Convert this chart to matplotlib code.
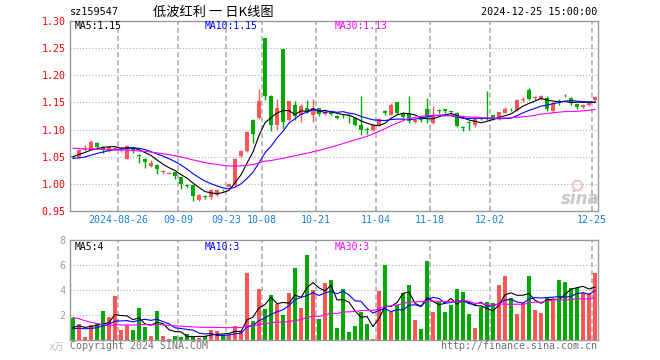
import numpy as np
import pandas as pd
import matplotlib
matplotlib.use('Agg')
import matplotlib.pyplot as plt

plt.rcParams['font.family'] = ['DejaVu Sans Mono', 'Noto Sans CJK SC']

# daily K-line data, 2024-08-14 .. 2024-12-25
opens = [1.051, 1.049, 1.062, 1.063, 1.076, 1.068, 1.060, 1.064, 1.062, 1.046,
         1.066, 1.054, 1.046, 1.032, 1.035, 1.022, 1.019, 1.021, 1.012, 0.997,
         0.997, 0.971, 0.977, 0.975, 0.980, 0.989, 0.995, 0.997, 1.052, 1.060,
         1.117, 1.122, 1.268, 1.162, 1.108, 1.248, 1.117, 1.146, 1.127, 1.139,
         1.127, 1.139, 1.129, 1.133, 1.125, 1.127, 1.126, 1.122, 1.109, 1.101,
         1.100, 1.108, 1.134, 1.127, 1.150, 1.131, 1.128, 1.114, 1.120, 1.138,
         1.112, 1.135, 1.137, 1.133, 1.131, 1.104, 1.114, 1.109, 1.120, 1.122,
         1.126, 1.120, 1.131, 1.138, 1.136, 1.155, 1.173, 1.158, 1.157, 1.159,
         1.134, 1.151, 1.164, 1.159, 1.148, 1.142, 1.146, 1.154]
highs = [1.052, 1.064, 1.072, 1.080, 1.077, 1.069, 1.069, 1.068, 1.067, 1.072,
         1.068, 1.055, 1.047, 1.044, 1.036, 1.026, 1.022, 1.022, 1.013, 1.000,
         0.998, 0.982, 0.980, 0.990, 0.990, 0.990, 1.002, 1.047, 1.063, 1.097,
         1.119, 1.174, 1.269, 1.163, 1.157, 1.249, 1.153, 1.152, 1.147, 1.154,
         1.156, 1.140, 1.136, 1.135, 1.127, 1.128, 1.127, 1.123, 1.162, 1.104,
         1.110, 1.121, 1.136, 1.149, 1.151, 1.133, 1.162, 1.120, 1.122, 1.159,
         1.144, 1.137, 1.138, 1.135, 1.133, 1.107, 1.116, 1.124, 1.121, 1.171,
         1.127, 1.133, 1.142, 1.140, 1.156, 1.160, 1.177, 1.161, 1.163, 1.161,
         1.150, 1.157, 1.166, 1.160, 1.149, 1.148, 1.152, 1.161]
lows = [1.048, 1.048, 1.061, 1.062, 1.066, 1.056, 1.059, 1.062, 1.058, 1.045,
        1.057, 1.038, 1.029, 1.031, 1.019, 1.018, 1.018, 1.009, 0.990, 0.992,
        0.969, 0.968, 0.972, 0.972, 0.978, 0.986, 0.994, 0.996, 1.050, 1.059,
        1.075, 1.120, 1.155, 1.098, 1.100, 1.103, 1.115, 1.118, 1.114, 1.131,
        1.114, 1.125, 1.126, 1.126, 1.119, 1.122, 1.112, 1.107, 1.090, 1.092,
        1.097, 1.106, 1.126, 1.126, 1.129, 1.121, 1.112, 1.112, 1.114, 1.112,
        1.110, 1.130, 1.131, 1.127, 1.104, 1.097, 1.100, 1.104, 1.117, 1.117,
        1.118, 1.118, 1.130, 1.134, 1.134, 1.151, 1.155, 1.154, 1.155, 1.135,
        1.131, 1.146, 1.160, 1.146, 1.138, 1.140, 1.143, 1.153]
closes = [1.050, 1.063, 1.064, 1.078, 1.068, 1.063, 1.068, 1.066, 1.064, 1.070,
          1.062, 1.052, 1.040, 1.038, 1.028, 1.023, 1.020, 1.014, 1.000, 0.996,
          0.977, 0.980, 0.976, 0.988, 0.988, 0.988, 1.000, 1.046, 1.061, 1.096,
          1.091, 1.152, 1.162, 1.108, 1.139, 1.114, 1.152, 1.125, 1.143, 1.133,
          1.139, 1.129, 1.133, 1.129, 1.121, 1.126, 1.125, 1.108, 1.100, 1.100,
          1.109, 1.119, 1.130, 1.146, 1.131, 1.124, 1.116, 1.118, 1.118, 1.124,
          1.124, 1.134, 1.134, 1.132, 1.106, 1.103, 1.113, 1.122, 1.119, 1.119,
          1.120, 1.132, 1.137, 1.137, 1.154, 1.156, 1.157, 1.159, 1.162, 1.137,
          1.148, 1.150, 1.163, 1.150, 1.142, 1.146, 1.151, 1.160]
vols = [1.79, 1.28, 0.27, 1.20, 1.33, 2.32, 1.81, 3.52, 0.80, 1.20,
        0.80, 2.53, 1.07, 0.32, 2.32, 0.32, 0.08, 0.32, 0.21, 0.48,
        0.27, 0.16, 0.32, 0.80, 0.72, 0.40, 0.40, 1.15, 0.72, 5.39,
        1.52, 4.08, 2.48, 3.60, 2.85, 2.00, 3.79, 5.79, 2.59, 6.80,
        4.00, 1.68, 4.59, 4.80, 0.99, 4.08, 0.67, 1.15, 2.21, 1.28,
        0.05, 3.92, 6.00, 2.21, 2.80, 3.73, 4.40, 1.60, 0.88, 6.32,
        2.27, 3.01, 2.21, 2.80, 4.08, 3.87, 2.05, 0.99, 2.67, 3.01,
        2.93, 4.40, 5.12, 3.39, 2.05, 2.93, 5.12, 2.40, 2.19, 3.47,
        3.20, 4.80, 4.61, 4.19, 4.13, 3.73, 3.73, 5.39]

# sessions before the visible window (only feed the moving averages)
prior_closes = [1.082, 1.085, 1.080, 1.078, 1.083, 1.079, 1.076, 1.074, 1.077, 1.080,
                1.075, 1.072, 1.070, 1.073, 1.071, 1.069, 1.072, 1.070, 1.068, 1.066,
                1.055, 1.048, 1.042, 1.038, 1.037, 1.041, 1.047, 1.055, 1.057]
prior_vols = [4.2, 5.1, 4.8, 4.6, 4.4, 4.6, 1.5, 1.3, 1.1, 1.4,
              1.2, 1.0, 1.3, 1.1, 1.2, 1.4, 1.1, 1.2, 1.3, 1.2,
              0.9, 0.7, 0.8, 0.9, 0.7, 0.6, 0.9, 0.8, 0.9]

date_pos = [8, 18, 26, 32, 41, 51, 60, 70, 87]
date_labels = ['2024-08-26', '09-09', '09-23', '10-08', '10-21',
               '11-04', '11-18', '12-02', '12-25']
price_ticks = [0.95, 1.00, 1.05, 1.10, 1.15, 1.20, 1.25, 1.30]
vol_ticks = [2, 4, 6, 8]
price_ma_text = ['MA5:1.15', 'MA10:1.15', 'MA30:1.13']
vol_ma_text = ['MA5:4', 'MA10:3', 'MA30:3']

UP = '#ff5555'
DOWN = '#00a800'
GRID = '#aaaaaa'
FRAME = '#999999'
DATE_C = '#1a84d8'

o = np.array(opens)
h = np.array(highs)
l = np.array(lows)
c = np.array(closes)
v = np.array(vols)
n = len(c)
x = np.arange(n)
colors = np.where(c >= o, UP, DOWN)

np_ = len(prior_closes)
all_c = pd.Series(prior_closes + closes)
all_v = pd.Series(prior_vols + vols)
ma_c = {k: all_c.rolling(k, min_periods=1).mean().values[np_:] for k in (5, 10, 30)}
ma_v = {k: all_v.rolling(k, min_periods=1).mean().values[np_:] for k in (5, 10, 30)}
ma_col = {5: 'black', 10: '#0000ff', 30: '#ff00ff'}

W, H = 660, 360
fig = plt.figure(figsize=(6.6, 3.6), dpi=100)
ax = fig.add_axes([70 / W, 1 - 211 / H, 528 / W, 190 / H])
axv = fig.add_axes([70 / W, 1 - 340 / H, 528 / W, 100 / H])

def frame(a):
    for s in a.spines.values():
        s.set_color(FRAME)
        s.set_linewidth(1)
    a.set_xlim(-0.5, n - 0.5)
    a.tick_params(length=0)
    for p in date_pos:
        a.axvline(p - 0.5, color=GRID, lw=1.1, ls=(0, (3.3, 2)), zorder=0)

# price panel
frame(ax)
for t in price_ticks[1:-1]:
    ax.axhline(t, color=GRID, lw=0.75, ls=(0, (1, 2)), zorder=0)
ax.vlines(x, l, h, colors=colors, lw=1, zorder=2)
body = np.maximum(np.abs(c - o), 0.0016)
ax.bar(x, body, bottom=np.minimum(o, c), width=0.76, color=colors, lw=0, zorder=3)
for k in (5, 10, 30):
    ax.plot(x, ma_c[k], color=ma_col[k], lw=0.8, zorder=4)
ax.set_ylim(0.95, 1.30)
ax.set_yticks(price_ticks)
ax.set_yticklabels(['%.2f' % t for t in price_ticks], color='red', fontsize=7.2)
ax.tick_params(axis='y', pad=3)
ax.set_xticks([p - 0.5 for p in date_pos])
ax.set_xticklabels(date_labels, color=DATE_C, fontsize=7.2)
ax.tick_params(axis='x', pad=3)

# volume panel
frame(axv)
for t in vol_ticks[:-1]:
    axv.axhline(t, color=GRID, lw=0.75, ls=(0, (1, 2)), zorder=0)
axv.bar(x, v, width=0.78, color=colors, lw=0, zorder=2)
for k in (5, 10, 30):
    axv.plot(x, ma_v[k], color=ma_col[k], lw=0.8, zorder=4)
axv.set_ylim(0, 8)
axv.set_yticks(vol_ticks)
axv.set_yticklabels([str(t) for t in vol_ticks], color='#a0a0a0', fontsize=7.5)
axv.tick_params(axis='y', pad=3)
axv.set_xticks([])

def px(xp, yp, s, **kw):
    fig.text(xp / W, 1 - yp / H, s, va='center', **kw)

# header
px(70, 12, 'sz159547', fontsize=7.3)
px(213, 12, '低波红利 一 日K线图', ha='center', fontsize=9.5,
   family=['Noto Sans CJK SC', 'DejaVu Sans'])
px(597, 12, '2024-12-25 15:00:00', ha='right', fontsize=7.3)

# MA legends
for xp, s, k in zip((75, 205, 335), price_ma_text, (5, 10, 30)):
    px(xp, 26, s, color=ma_col[k], fontsize=7)
for xp, s, k in zip((75, 205, 335), vol_ma_text, (5, 10, 30)):
    px(xp, 247, s, color=ma_col[k], fontsize=7)

# footer + watermark
px(50, 347, 'x万', color='#c0c0c0', fontsize=7, family=['Noto Sans CJK SC', 'DejaVu Sans'])
px(70, 346, 'Copyright 2024 SINA.COM', color='#707070', fontsize=7.2)
px(597, 346, 'http://finance.sina.com.cn', ha='right', color='#707070', fontsize=7.2)
px(580, 199, 'sina', ha='center', color='#c8c8c8', fontsize=12,
   style='italic', weight='bold', family='DejaVu Sans')
# eye logo of the watermark
fig.add_artist(plt.Line2D([577 / W], [1 - 185 / H], marker='o', ms=7, mfc='none',
                          mec='#f2c4c4', mew=1.5, transform=fig.transFigure))

fig.savefig('out.png', dpi=100)
